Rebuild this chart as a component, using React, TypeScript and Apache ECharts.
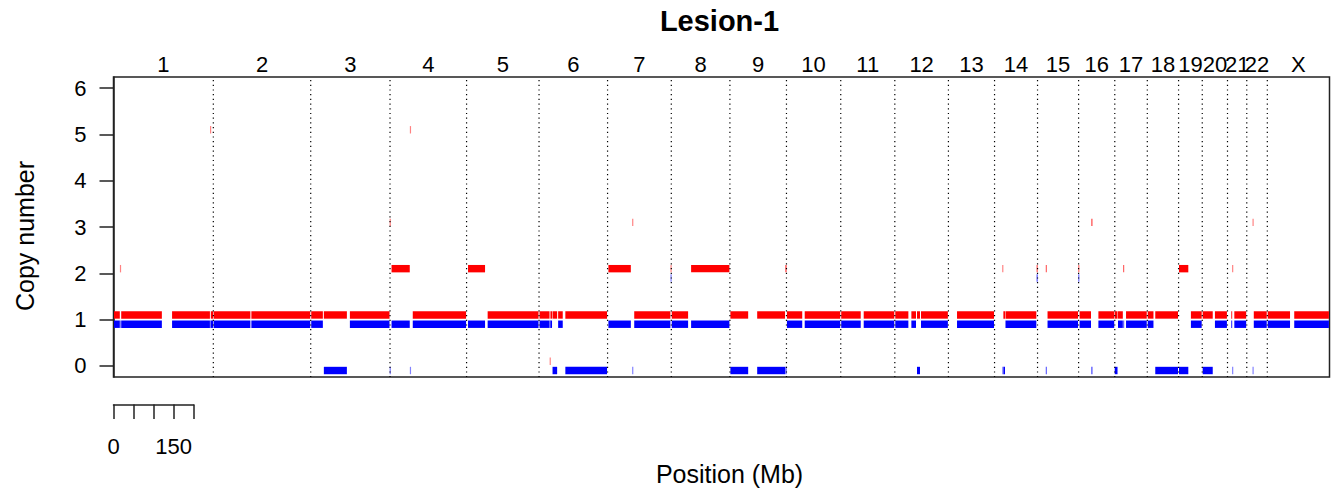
import React, { useEffect, useRef } from 'react';
import * as echarts from 'echarts';

// ---- data ----
const titleText = 'Lesion-1';
const xAxisTitle = 'Position (Mb)';
const yAxisTitle = 'Copy number';

const chromNames = ['1', '2', '3', '4', '5', '6', '7', '8', '9', '10', '11', '12', '13', '14', '15', '16', '17', '18', '19', '20', '21', '22', 'X'];
// chromosome lengths in Mb (hg19)
const chromLengths = [249.25, 243.2, 198.02, 191.15, 180.92, 171.12, 159.14, 146.36, 141.21, 135.53, 135.01, 133.85, 115.17, 107.35, 102.53, 90.35, 81.2, 78.08, 59.13, 63.03, 48.13, 51.3, 155.27];

// segments in genome-wide Mb: start, end, major copy number (red), minor copy number (blue)
const segStart = [0, 17, 18, 145, 242, 243, 249.25, 343, 492.45, 524, 589, 690.45, 693, 741, 746, 884, 933, 1062.5, 1090, 1091, 1095, 1109, 1127, 1234.5, 1296, 1299, 1391.7, 1392.7, 1441, 1539.1, 1606, 1678, 1680.3, 1724.7, 1815.8, 1872, 1950.8, 1991, 2005, 2015, 2105, 2220, 2222, 2226, 2305.5, 2328.5, 2331, 2409.65, 2411, 2442, 2458, 2500, 2507, 2521.5, 2527, 2581.2, 2600, 2659.3, 2689, 2718.4, 2749, 2791, 2794, 2797.4, 2845, 2846, 2880.8, 2947];
const segEnd = [17, 18, 122, 242, 243, 249.25, 343, 492.45, 524, 584, 690.45, 691.5, 741, 742, 881.6, 929, 1062.5, 1090, 1091, 1095, 1109, 1123, 1233.6, 1293, 1297, 1391.7, 1392.7, 1436, 1539.1, 1586, 1678, 1680.3, 1721, 1815.8, 1867, 1950.8, 1986, 2005, 2015, 2084.65, 2199.85, 2221, 2226, 2305.5, 2307.15, 2330, 2409.65, 2411, 2442, 2444, 2500, 2507, 2521.5, 2523, 2581.2, 2598, 2659.3, 2685, 2718.4, 2746, 2781.4, 2793, 2795, 2829.5, 2846, 2880.8, 2939, 3036.1];
const segMajor = [1, 2, 1, 1, 5, 1, 1, 1, 1, 1, 1, 3, 2, 5, 1, 2, 1, 1, 0, 1, 1, 1, 1, 2, 3, 1, 2, 1, 2, 1, 1, 2, 1, 1, 1, 1, 1, 1, 1, 1, 1, 2, 1, 1, 2, 2, 1, 2, 1, 3, 1, 1, 1, 2, 1, 1, 1, 2, 1, 1, 1, 1, 2, 1, 3, 1, 1, 1];
const segMinor = [1, 1, 1, 1, 1, 1, 1, 1, 1, 0, 1, 0, 1, 0, 1, 1, 1, 1, 1, 1, 0, 1, 0, 1, 0, 1, 2, 1, 1, 0, 0, 0, 1, 1, 1, 1, 1, 1, 0, 1, 1, 0, 0, 1, 2, 0, 1, 2, 1, 0, 1, 0, 1, 1, 1, 1, 0, 0, 1, 0, 1, 1, 0, 1, 0, 1, 1, 1];

const yTickValues = [0, 1, 2, 3, 4, 5, 6];
const scaleTicks = [0, 50, 100, 150, 200];
const scaleLabels = [0, 150];

// ---- styling / layout ----
const RED = '#FF0000';
const BLUE = '#0000FF';
const FONT = "'Liberation Sans', Arial, Helvetica, sans-serif";
const Y_MIN = -0.24;
const Y_MAX = 6.24;
const GRID_LEFT = 113.5;
const GRID_TOP = 77;
const GRID_WIDTH = 1216;
const GRID_HEIGHT = 300;
const OFFSET = 0.1;
const BAR_THICK = 0.16;
const TICK_FONT = 22;

const chromStarts: number[] = [];
{
  let acc = 0;
  chromLengths.forEach((l) => {
    chromStarts.push(acc);
    acc += l;
  });
}
const genomeTotal = chromLengths.reduce((a, b) => a + b, 0);
const chromEnds = chromStarts.map((s, i) => s + chromLengths[i]);
const chromMids = chromStarts.map((s, i) => s + chromLengths[i] / 2);

export default function App() {
  const ref = useRef<HTMLDivElement>(null);

  useEffect(() => {
    if (!ref.current) return;
    const chart = echarts.init(ref.current, undefined, { renderer: 'svg' });

    const segData = segStart.map((s, i) => [s, segEnd[i], segMajor[i], segMinor[i]]);
    const dividerData = chromEnds.slice(0, chromEnds.length - 1).map((v) => [v]);
    const labelData = chromMids.map((m, i) => [m, i]);

    const option: any = {
      animation: false,
      backgroundColor: '#ffffff',
      title: {
        text: titleText,
        left: GRID_LEFT + GRID_WIDTH / 2 - 2,
        top: 6,
        textAlign: 'center',
        padding: 0,
        textStyle: { fontSize: 29, fontWeight: 'bold', color: '#000', fontFamily: FONT },
      },
      grid: [
        {
          left: GRID_LEFT,
          top: GRID_TOP,
          width: GRID_WIDTH,
          height: GRID_HEIGHT,
          show: true,
          borderColor: '#222',
          borderWidth: 1.5,
          backgroundColor: 'transparent',
          outerBoundsMode: 'none',
        },
        {
          left: GRID_LEFT,
          top: 403.5,
          width: (GRID_WIDTH * scaleTicks[scaleTicks.length - 1]) / genomeTotal,
          height: 1,
          outerBoundsMode: 'none',
        },
      ],
      xAxis: [
        {
          type: 'value',
          gridIndex: 0,
          min: 0,
          max: genomeTotal,
          axisLine: { show: false },
          axisTick: { show: false },
          axisLabel: { show: false },
          splitLine: { show: false },
          name: xAxisTitle,
          nameLocation: 'middle',
          nameGap: 84,
          nameTextStyle: { fontSize: 25, color: '#000', fontFamily: FONT, padding: [0, 0, 0, 16] },
        },
        {
          type: 'value',
          gridIndex: 1,
          min: scaleTicks[0],
          max: scaleTicks[scaleTicks.length - 1],
          interval: scaleTicks[1] - scaleTicks[0],
          axisLine: { show: true, lineStyle: { color: '#222', width: 1.5 } },
          axisTick: { show: true, length: 14.5, lineStyle: { color: '#222', width: 1.5 } },
          axisLabel: { customValues: scaleLabels, fontSize: TICK_FONT, margin: 31, color: '#000', fontFamily: FONT },
          splitLine: { show: false },
        },
      ],
      yAxis: [
        {
          type: 'value',
          gridIndex: 0,
          min: Y_MIN,
          max: Y_MAX,
          axisLine: { show: true, lineStyle: { color: '#222', width: 1.5 } },
          axisTick: { show: true, length: 14, customValues: yTickValues, lineStyle: { color: '#222', width: 1.5 } },
          axisLabel: { customValues: yTickValues, fontSize: TICK_FONT, margin: 27, color: '#000', fontFamily: FONT },
          splitLine: { show: false },
          name: yAxisTitle,
          nameLocation: 'middle',
          nameGap: 76,
          nameTextStyle: { fontSize: 25, color: '#000', fontFamily: FONT, padding: [0, 18, 0, 0] },
        },
        { type: 'value', gridIndex: 1, show: false, min: 0, max: 1 },
      ],
      series: [
        {
          type: 'custom',
          name: 'segments',
          xAxisIndex: 0,
          yAxisIndex: 0,
          data: segData,
          encode: { x: [0, 1], y: [2, 3] },
          clip: true,
          z: 2,
          renderItem: (params: any, api: any) => {
            const s = api.value(0);
            const e = api.value(1);
            const maj = api.value(2);
            const mn = api.value(3);
            const h = api.size([0, BAR_THICK])[1];
            const mk = (v: number, color: string) => {
              const a = api.coord([s, v]);
              const b = api.coord([e, v]);
              let x0 = a[0];
              let w = b[0] - a[0];
              let op = 1;
              if (w > 3) {
                x0 += 0.5;
                w -= 1;
              } else {
                op = Math.min(1, 0.25 + w * 0.6);
                const c = x0 + w / 2;
                w = Math.max(w, 1.2);
                x0 = c - w / 2;
              }
              return {
                type: 'rect',
                shape: { x: x0, y: a[1] - h / 2, width: w, height: h },
                style: { fill: color, opacity: op },
              };
            };
            return {
              type: 'group',
              children: [mk(mn - OFFSET, BLUE), mk(maj + OFFSET, RED)],
            };
          },
        },
        {
          type: 'custom',
          name: 'dividers',
          xAxisIndex: 0,
          yAxisIndex: 0,
          data: dividerData,
          encode: { x: 0 },
          clip: false,
          z: 3,
          silent: true,
          renderItem: (params: any, api: any) => {
            const x = api.coord([api.value(0), 0])[0];
            const top = api.coord([0, Y_MAX])[1];
            const bottom = api.coord([0, Y_MIN])[1];
            return {
              type: 'line',
              shape: { x1: x, y1: top + 3, x2: x, y2: bottom },
              style: { stroke: '#000', lineWidth: 1.2, lineDash: [1.2, 3.5] },
            };
          },
        },
        {
          type: 'custom',
          name: 'chromLabels',
          xAxisIndex: 0,
          yAxisIndex: 0,
          data: labelData,
          encode: { x: 0 },
          clip: false,
          z: 3,
          silent: true,
          renderItem: (params: any, api: any) => {
            const p = api.coord([api.value(0), Y_MAX]);
            return {
              type: 'text',
              x: p[0],
              y: p[1] - 13,
              style: {
                text: chromNames[api.value(1)],
                fontSize: TICK_FONT,
                fontFamily: FONT,
                fill: '#000',
                align: 'center',
                verticalAlign: 'middle',
              },
            };
          },
        },
      ],
    };

    chart.setOption(option);
    return () => {
      chart.dispose();
    };
  }, []);

  return (
    <div
      ref={ref}
      style={{ position: 'absolute', left: 0, top: 0, width: 1335, height: 490, background: '#fff' }}
    />
  );
}
